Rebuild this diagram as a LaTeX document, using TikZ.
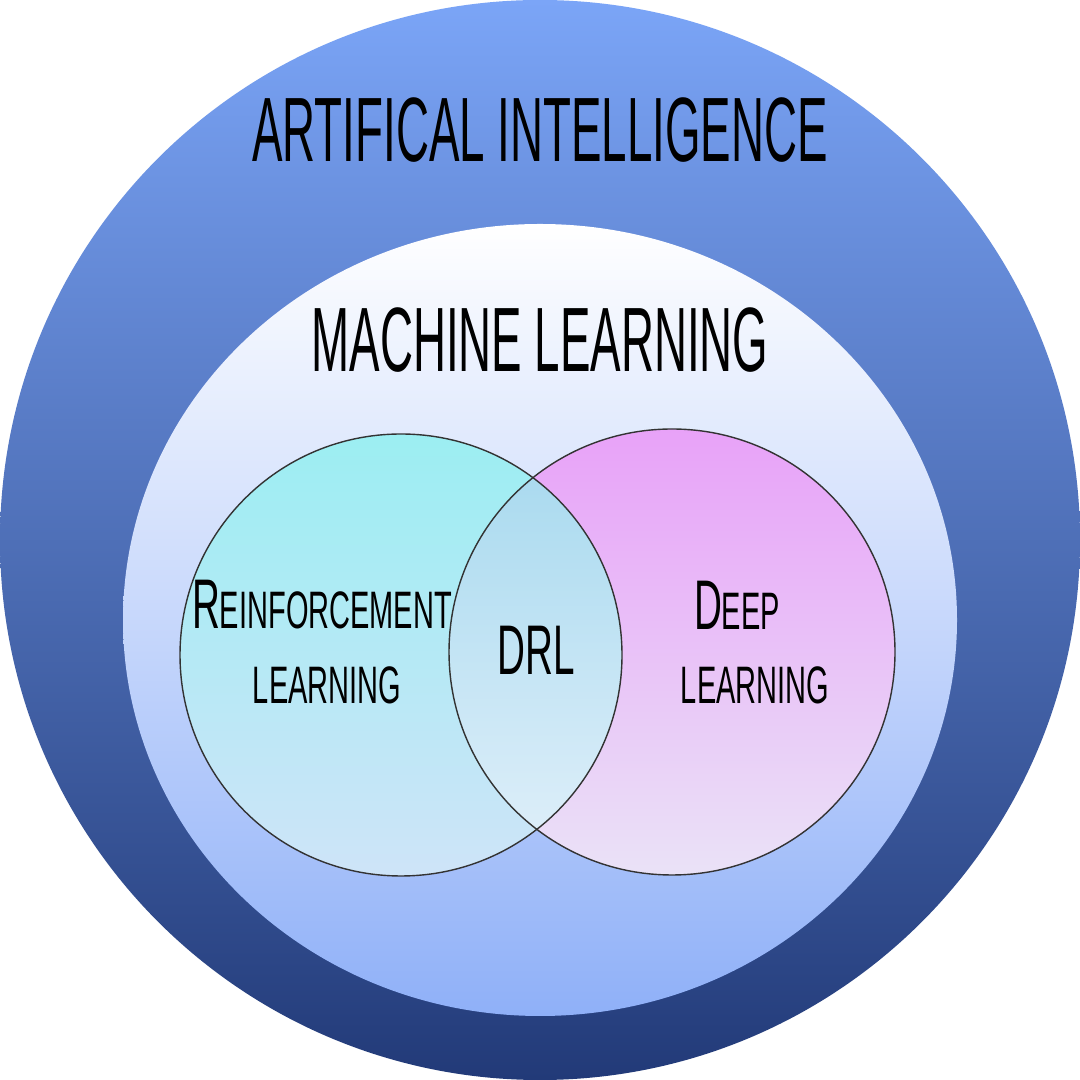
\documentclass[tikz,border=0pt]{standalone}
\usepackage{fontspec}
\setmainfont{Liberation Sans}
\usetikzlibrary{positioning}

\tikzset{
    label text/.style={font=\fontsize{26}{26}\selectfont, xscale=0.5, text=black},
    small text/.style={font=\fontsize{20}{22}\selectfont, xscale=0.55, text=black},
    rim/.style={draw=black!80, line width=0.4pt}
}

\begin{document}
\begin{tikzpicture}
    \useasboundingbox (0,0) rectangle (10.8,10.8);
    \fill[white] (0,0) rectangle (10.8,10.8);
    % outer ring and machine learning field
    \shade[top color={rgb,255:red,123;green,165;blue,247}, bottom color={rgb,255:red,34;green,58;blue,120}]
        (5.4,5.4) circle (5.4);
    \shade[top color=white, bottom color={rgb,255:red,143;green,176;blue,248}]
        (5.4,4.6) ellipse (4.17 and 3.96);

    % the two sets
    \shade[top color={rgb,255:red,156;green,238;blue,242}, bottom color={rgb,255:red,206;green,228;blue,248}]
        (4.01,4.25) circle (2.21);
    \shade[top color={rgb,255:red,232;green,162;blue,248}, bottom color={rgb,255:red,234;green,226;blue,247}]
        (6.72,4.28) circle (2.23);
    \begin{scope}
        \clip (4.01,4.25) circle (2.21);
        \shade[top color={rgb,255:red,164;green,216;blue,238}, bottom color={rgb,255:red,226;green,240;blue,250}]
            (6.72,4.28) circle (2.23);
    \end{scope}
    \draw[rim] (4.01,4.25) circle (2.21);
    \draw[rim] (6.72,4.28) circle (2.23);

    % texts
    \path (5.40,9.50) node [label text] (ai) {ARTIFICAL INTELLIGENCE};
    \path (5.40,7.40) node [label text] (ml) {MACHINE LEARNING};
    \path (3.22,4.75) node [small text] (rl1) {R\fontsize{15}{15}\selectfont EINFORCEMENT};
    \path (3.27,3.95) node [small text] (rl2) {\fontsize{15}{15}\selectfont LEARNING};
    \path (5.36,4.30) node [small text] (drl) {DRL};
    \path (7.37,4.75) node [small text] (dl1) {D\fontsize{15}{15}\selectfont EEP};
    \path (7.55,3.95) node [small text] (dl2) {\fontsize{15}{15}\selectfont LEARNING};
\end{tikzpicture}
\end{document}
